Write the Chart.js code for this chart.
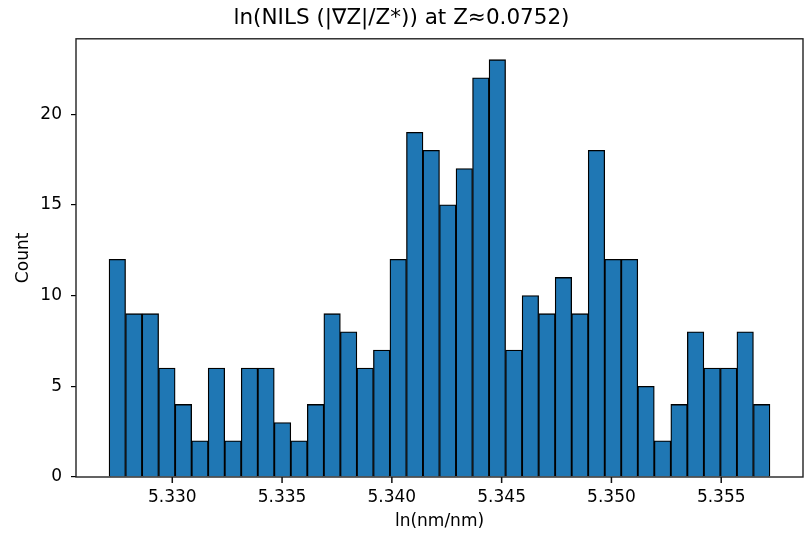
<!DOCTYPE html>
<html>
<head>
<meta charset="utf-8">
<script src="https://cdn.jsdelivr.net/npm/chart.js@4.4.1/dist/chart.umd.min.js"></script>
<style>
  html, body { margin: 0; padding: 0; background: #fff; }
  #wrap { width: 805px; height: 538px; }
</style>
</head>
<body>
<div id="wrap"><canvas id="hist"></canvas></div>
<script>
// Histograma: 40 bins entre BIN_LO y BIN_HI
const COUNTS = [12, 9, 9, 6, 4, 2, 6, 2, 6, 6, 3, 2, 4, 9, 8, 6, 7, 12, 19, 18,
                15, 17, 22, 23, 7, 10, 9, 11, 9, 18, 12, 12, 5, 2, 4, 8, 6, 6, 8, 4];
const BIN_LO = 5.32712;
const BIN_HI = 5.35722;
const X_TICKS = [5.330, 5.335, 5.340, 5.345, 5.350, 5.355];
const Y_TICKS = [0, 5, 10, 15, 20];
const X_MIN = 5.325615, X_MAX = 5.358725;
const Y_MAX = 24.15;

const binW = (BIN_HI - BIN_LO) / COUNTS.length;
const puntos = COUNTS.map((c, i) => ({ x: BIN_LO + binW * (i + 0.5), y: c }));

Chart.defaults.font.family = "'DejaVu Sans', sans-serif";
Chart.defaults.color = "#000";

// Marco completo + marcas del eje x dibujadas a mano (más visibles)
const marco = {
  id: "marco",
  afterDraw(chart) {
    const ctx = chart.ctx;
    const a = chart.chartArea;
    const sx = chart.scales.x;
    ctx.save();
    ctx.strokeStyle = "#222";
    ctx.lineWidth = 1.4;
    ctx.strokeRect(a.left, a.top, a.right - a.left, a.bottom - a.top);
    ctx.fillStyle = "#111";
    for (const v of X_TICKS) {
      const px = sx.getPixelForValue(v);
      ctx.fillRect(px - 0.75, a.bottom, 1.5, 6);
    }
    ctx.restore();
  },
};

// Tipo scatter con dataset de barras: eje x lineal sin el offset de "bar"
new Chart(document.getElementById("hist"), {
  type: "scatter",
  data: {
    datasets: [{
      type: "bar",
      data: puntos,
      backgroundColor: "#1f77b4",
      borderColor: "#000",
      borderWidth: 1.3,
      barPercentage: 1,
      categoryPercentage: 1,
      grouped: false,
    }],
  },
  options: {
    responsive: true,
    maintainAspectRatio: false,
    animation: false,
    layout: { padding: { left: 0, right: 2, top: 0, bottom: 0 } },
    plugins: {
      legend: { display: false },
      tooltip: { enabled: false },
      title: {
        display: true,
        text: "ln(NILS (|∇Z|/Z*)) at Z≈0.0752)",
        font: { size: 21.5, weight: "normal" },
        color: "#000",
        padding: { top: 6, bottom: 7 },
      },
    },
    scales: {
      x: {
        type: "linear",
        min: X_MIN,
        max: X_MAX,
        offset: false,
        afterBuildTicks: s => { s.ticks = X_TICKS.map(v => ({ value: v })); },
        afterFit: s => { s.height = 61; },
        ticks: {
          callback: v => v.toFixed(3),
          font: { size: 17 },
          padding: 5,
          maxRotation: 0,
          autoSkip: false,
        },
        grid: { display: false, offset: false, drawTicks: true, tickLength: 5 },
        border: { display: false },
        title: {
          display: true,
          text: "ln(nm/nm)",
          font: { size: 17 },
          padding: { top: 0, bottom: 6 },
        },
      },
      y: {
        type: "linear",
        min: 0,
        max: Y_MAX,
        afterBuildTicks: s => { s.ticks = Y_TICKS.map(v => ({ value: v })); },
        afterFit: s => { s.width = 76; },
        ticks: { font: { size: 17 }, padding: 9 },
        grid: { drawOnChartArea: false, drawTicks: true, tickLength: 5, color: "#000", lineWidth: 1.2 },
        border: { display: false },
        title: {
          display: true,
          text: "Count",
          font: { size: 17 },
          padding: { top: 13, bottom: 0 },
        },
      },
    },
  },
  plugins: [marco],
});
</script>
</body>
</html>
